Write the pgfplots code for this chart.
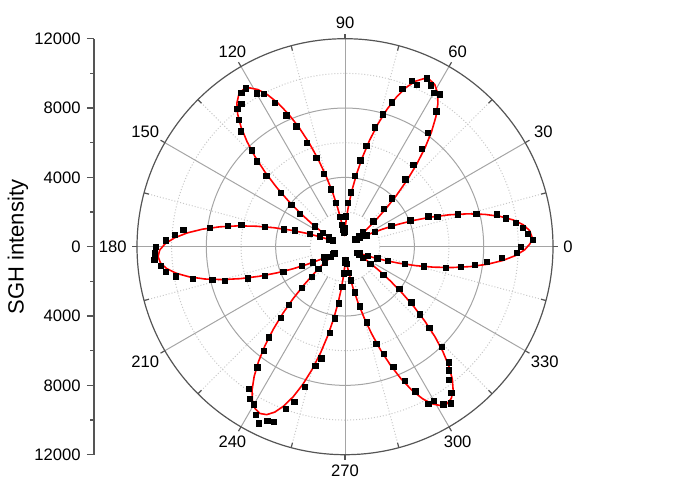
\documentclass[border=0pt]{standalone}
\usepackage{fontspec}
\setmainfont{Liberation Sans}
\usepackage{pgfplots}
\pgfplotsset{compat=1.18}
\usepgfplotslibrary{polar}
\definecolor{gridsolid}{RGB}{165,165,165}
\definecolor{griddot}{RGB}{200,200,200}
\definecolor{axdark}{RGB}{85,85,85}
\newcommand\lbl{\fontsize{8.3}{10}\selectfont}
\newcommand\ttl{\fontsize{11}{13}\selectfont}

\pgfplotstableread{
ang r
0 10150
2 10850
4 10590
6 10330
8 9960
10 9440
12 8970
14 7810
16 6790
18 5600
20 5110
22 4060
24 2920
26 1930
28 1400
30 1000
32 800
34 760
36 700
38 1000
40 1335
42 2190
44 3115
46 3890
48 5220
50 6140
52 7180
54 8130
56 9410
58 10350
60 10230
62 10540
64 10810
66 10200
68 10310
70 9670
72 8760
74 7950
76 7100
78 5950
80 5055
82 4130
84 3150
86 2520
88 1750
90 1100
92 850
94 800
96 1000
98 1255
100 1760
102 2570
104 3410
106 4380
108 5370
110 6390
112 7480
114 8290
116 9220
118 9990
120 10200
122 10780
124 10700
126 10180
128 10070
130 9530
132 8960
134 7720
136 7070
138 6115
140 4810
142 3935
144 3200
146 2115
148 1500
150 1080
152 800
154 780
156 975
158 1560
160 2170
162 3035
164 3650
166 4760
168 6100
170 6845
172 7870
174 9385
176 9835
178 10350
180 10900
182 10965
184 11025
186 10690
188 10425
190 9900
192 8980
194 7880
196 7195
198 5885
200 4905
202 3845
204 2730
206 2050
208 1335
210 705
212 780
214 690
216 990
218 1455
220 2000
222 2590
224 3440
226 4660
228 5530
230 6820
232 7620
234 8600
236 9890
238 10340
240 10500
242 10975
244 11350
246 11010
248 10910
250 9970
252 9415
254 8410
256 7100
258 6590
260 5045
262 4170
264 3290
266 2320
268 1535
270 925
272 800
274 865
276 1000
278 1535
280 1985
282 2705
284 3560
286 4550
288 5890
290 6590
292 7480
294 8460
296 9290
298 10270
300 10290
302 10720
304 10910
306 10440
308 9755
310 9325
312 8970
314 8050
316 6755
318 5825
320 4995
322 3980
324 2750
326 1765
328 1200
330 960
332 780
334 780
336 900
338 1410
340 2000
342 2600
344 3600
346 4700
348 5950
350 6790
352 7570
354 8230
356 9080
358 9930
}\pointdata

\pgfplotstableread{
ang r
1 10690
3 10800
5 10690
7 10366
9 9840
11 9137
13 8288
15 7328
17 6300
19 5250
21 4222
23 3263
25 2413
27 1710
29 1184
31 860
33 750
35 860
37 1184
39 1710
41 2413
43 3263
45 4222
47 5250
49 6300
51 7328
53 8288
55 9137
57 9840
59 10366
61 10690
63 10800
65 10690
67 10366
69 9840
71 9137
73 8288
75 7328
77 6300
79 5250
81 4222
83 3263
85 2413
87 1710
89 1184
91 860
93 750
95 860
97 1184
99 1710
101 2413
103 3263
105 4222
107 5250
109 6300
111 7328
113 8288
115 9137
117 9840
119 10366
121 10690
123 10800
125 10690
127 10366
129 9840
131 9137
133 8288
135 7328
137 6300
139 5250
141 4222
143 3263
145 2413
147 1710
149 1184
151 860
153 750
155 860
157 1184
159 1710
161 2413
163 3263
165 4222
167 5250
169 6300
171 7328
173 8288
175 9137
177 9840
179 10366
181 10690
183 10800
185 10690
187 10366
189 9840
191 9137
193 8288
195 7328
197 6300
199 5250
201 4222
203 3263
205 2413
207 1710
209 1184
211 860
213 750
215 860
217 1184
219 1710
221 2413
223 3263
225 4222
227 5250
229 6300
231 7328
233 8288
235 9137
237 9840
239 10366
241 10690
243 10800
245 10690
247 10366
249 9840
251 9137
253 8288
255 7328
257 6300
259 5250
261 4222
263 3263
265 2413
267 1710
269 1184
271 860
273 750
275 860
277 1184
279 1710
281 2413
283 3263
285 4222
287 5250
289 6300
291 7328
293 8288
295 9137
297 9840
299 10366
301 10690
303 10800
305 10690
307 10366
309 9840
311 9137
313 8288
315 7328
317 6300
319 5250
321 4222
323 3263
325 2413
327 1710
329 1184
331 860
333 750
335 860
337 1184
339 1710
341 2413
343 3263
345 4222
347 5250
349 6300
351 7328
353 8288
355 9137
357 9840
359 10366
361 10690
}\fitdata

\begin{document}
\begin{tikzpicture}
\path[use as bounding box] (0,0) rectangle (344pt,-248.5pt);

% polar grid
\begin{scope}[shift={(172.5pt,-123.35pt)}]
  \foreach \rr in {17.333pt,52pt,86.667pt}
    \draw[griddot, densely dotted, line width=0.5pt] (0,0) circle[radius=\rr];
  \foreach \rr in {34.667pt,69.333pt}
    \draw[gridsolid, line width=0.5pt] (0,0) circle[radius=\rr];
  \foreach \a in {0,30,...,330}
    \draw[gridsolid, line width=0.5pt] (\a:17.333pt) -- (\a:104pt);
  \foreach \a in {15,45,...,345}
    \draw[griddot, densely dotted, line width=0.5pt] (\a:17.333pt) -- (\a:104pt);
  \draw[axdark, line width=0.6pt] (0,0) circle[radius=104pt];
  \foreach \a in {0,30,...,330}
    \draw[axdark, line width=0.6pt] (\a:104pt) -- (\a:106.5pt);
  \foreach \a in {15,45,...,345}
    \draw[axdark, line width=0.6pt] (\a:101.5pt) -- (\a:104pt);
  \foreach \a [evaluate=\a as \b using {int(mod(\a+180,360))}] in {0,30,...,330}
    \node[font=\lbl, anchor=\b, inner sep=0pt] at (\a:109pt) {\a};
\end{scope}

\begin{polaraxis}[
  at={(172.5pt,-123.35pt)}, anchor=center,
  scale only axis, width=208pt, height=208pt,
  ymin=0, ymax=12000, hide axis, clip=false]
\addplot[red, line width=0.8pt, no markers] table[x=ang, y=r] {\fitdata};
\addplot[only marks, mark=square*, mark size=1.35pt, black] table[x=ang, y=r] {\pointdata};
\end{polaraxis}

\begin{axis}[
  at={(47pt,-227.35pt)}, anchor=south west,
  scale only axis, width=5pt, height=208pt,
  xmin=0, xmax=1, ymin=-12000, ymax=12000,
  hide x axis, axis y line*=left,
  scaled y ticks=false,
  ytick={-12000,-8000,-4000,0,4000,8000,12000},
  yticklabels={12000,8000,4000,0,4000,8000,12000},
  minor ytick={-10000,-6000,-2000,2000,6000,10000},
  tick align=outside, major tick length=3.5pt, minor tick length=2pt,
  axis line style={axdark, line width=0.6pt},
  every tick/.style={axdark, line width=0.6pt},
  yticklabel style={font=\lbl, inner sep=0pt, xshift=-3pt},
  /pgf/number format/assume math mode=true]
\end{axis}

\node[rotate=90, font=\ttl] at (9pt,-123.5pt) {SGH intensity};
\end{tikzpicture}
\end{document}
